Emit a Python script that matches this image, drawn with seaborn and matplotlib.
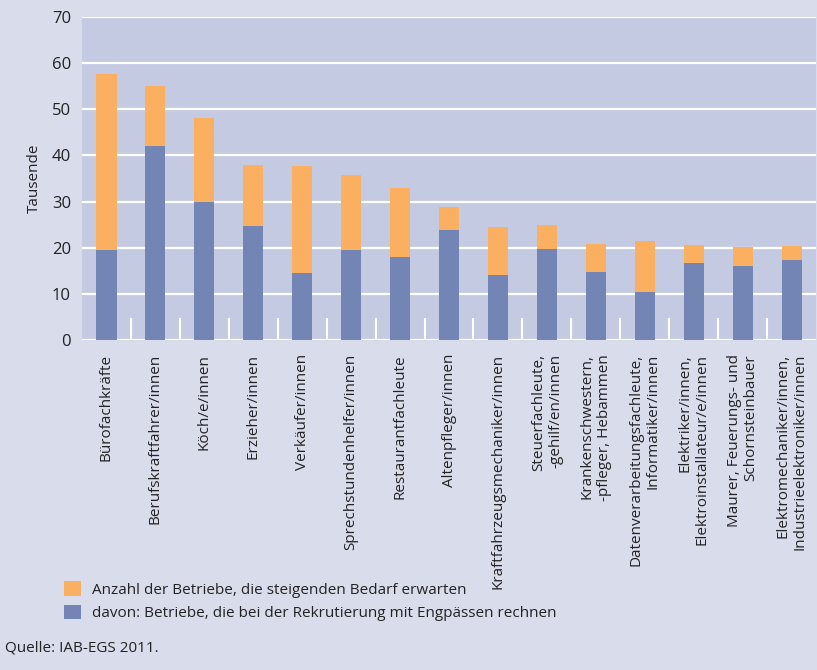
import numpy as np
import pandas as pd
import matplotlib
matplotlib.use("Agg")
import matplotlib.pyplot as plt
import seaborn as sns

# --- data (Tausende) ---
berufe = [
    "Bürofachkräfte",
    "Berufskraftfahrer/innen",
    "Köch/e/innen",
    "Erzieher/innen",
    "Verkäufer/innen",
    "Sprechstundenhelfer/innen",
    "Restaurantfachleute",
    "Altenpfleger/innen",
    "Kraftfahrzeugsmechaniker/innen",
    "Steuerfachleute,\n-gehilf/en/innen",
    "Krankenschwestern,\n-pfleger, Hebammen",
    "Datenverarbeitungsfachleute,\nInformatiker/innen",
    "Elektriker/innen,\nElektroinstallateur/e/innen",
    "Maurer, Feuerungs- und\nSchornsteinbauer",
    "Elektromechaniker/innen,\nIndustrieelektroniker/innen",
]
bedarf = [57.7, 55.1, 48.1, 37.9, 37.7, 35.8, 32.9, 28.9, 24.4, 25.0, 20.9, 21.5, 20.6, 20.2, 20.4]
engpass = [19.6, 42.0, 30.0, 24.8, 14.5, 19.6, 18.0, 23.9, 14.1, 19.8, 14.8, 10.4, 16.7, 16.1, 17.4]

label_bedarf = "Anzahl der Betriebe, die steigenden Bedarf erwarten"
label_engpass = "davon: Betriebe, die bei der Rekrutierung mit Engpässen rechnen"

ORANGE = "#fbaf60"
BLUE = "#7285b4"
PLOT_BG = "#c5cae3"
FIG_BG = "#d9ddeb"
TEXT = "#222222"

df = pd.DataFrame({"beruf": berufe, "bedarf": bedarf, "engpass": engpass})

sns.set_theme(style="white")
plt.rcParams["font.family"] = ["Open Sans", "DejaVu Sans"]

fig = plt.figure(figsize=(8.17, 6.70), dpi=100, facecolor=FIG_BG)
ax = fig.add_axes([0.1004, 0.4925, 0.8984, 0.4821])
ax.set_facecolor(PLOT_BG)

sns.barplot(data=df, x="beruf", y="bedarf", color=ORANGE, width=0.41,
            saturation=1, linewidth=0, label=label_bedarf, ax=ax, zorder=3)
sns.barplot(data=df, x="beruf", y="engpass", color=BLUE, width=0.41,
            saturation=1, linewidth=0, label=label_engpass, ax=ax, zorder=4)

ax.set_ylim(0, 70)
ax.set_xlim(-0.5, len(berufe) - 0.5)
ax.set_yticks(np.arange(0, 71, 10))
ax.yaxis.grid(True, color="white", linewidth=1.6, zorder=1)
ax.set_axisbelow(True)
for s in ax.spines.values():
    s.set_visible(False)

ax.set_xlabel("")
ax.set_ylabel("Tausende", fontsize=11, color=TEXT, labelpad=7)
ax.tick_params(axis="y", length=0, labelsize=12, labelcolor=TEXT, pad=8)
ax.tick_params(axis="x", which="major", bottom=True, length=0, pad=10)
ax.set_xticks(range(len(berufe)))
ax.set_xticklabels(berufe, rotation=90, ha="center", va="top",
                   multialignment="right", fontsize=11, color=TEXT)

# white separator ticks between categories
ax.set_xticks(np.arange(0.5, len(berufe) - 1, 1), minor=True)
ax.tick_params(axis="x", which="minor", bottom=True, direction="in",
               length=16, width=1.5, color="white")

handles, labels = ax.get_legend_handles_labels()
ax.legend(handles, labels, loc="upper left", bbox_to_anchor=(0.062, 0.153),
          bbox_transform=fig.transFigure, frameon=False, fontsize=11,
          handlelength=1.1, handleheight=1.1, handletextpad=0.7,
          labelspacing=0.45, labelcolor=TEXT)

fig.text(0.006, 0.033, "Quelle: IAB-EGS 2011.", fontsize=11, color=TEXT,
         ha="left", va="center")

fig.savefig("out.png", dpi=100, facecolor=FIG_BG)
